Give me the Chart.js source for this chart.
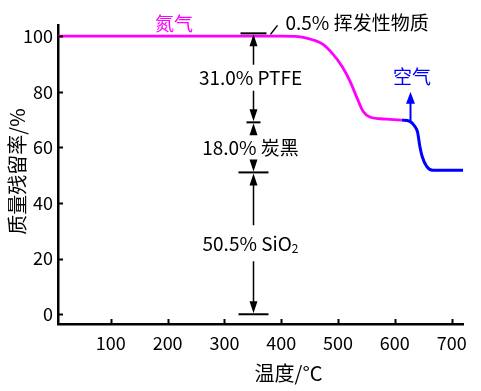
<!DOCTYPE html>
<html>
<head>
<meta charset="utf-8">
<script src="https://cdn.jsdelivr.net/npm/chart.js@4/dist/chart.umd.min.js"></script>
<style>
  html, body { margin: 0; padding: 0; background: #fff; }
  #wrap { width: 481px; height: 391px; }
</style>
</head>
<body>
<div id="wrap"><canvas id="tga" width="481" height="391"></canvas></div>
<script>
// TGA curve under nitrogen, then air
var nitrogenTemp = [7, 100, 200, 300, 400, 425, 441, 455, 473, 491, 508, 521, 533, 544, 556, 575, 591, 612];
var nitrogenMass = [100, 100, 100, 100, 100, 99.9, 99.5, 98.7, 97.1, 93.5, 88.8, 83.8, 78, 73, 70.9, 70.3, 70.1, 69.8];
var airTemp = [612, 626, 635, 640, 644, 648, 656, 667, 690, 720];
var airMass = [69.8, 69.4, 67.6, 65.5, 60.4, 56.8, 53.2, 51.8, 51.8, 51.8];

// composition bars (mass %) and their labels
var layerLevels = [101, 69, 51, 0];
var layerLabels = ['31.0% PTFE', '18.0% 炭黑', '50.5% SiO'];
var layerBarHalf = [13, 7, 15, 15];
var annotTemp = 350;
var volatileLabel = '0.5% 挥发性物质';
var airArrowTemp = 626;
var airArrowFrom = 69.4;
var airArrowTo = 80;

var xTicks = [100, 200, 300, 400, 500, 600, 700];
var yTicks = [0, 20, 40, 60, 80, 100];

var FONT = '"Noto Sans CJK SC", "Noto Sans", sans-serif';

function toPoints(xs, ys) {
  return xs.map(function (x, i) { return { x: x, y: ys[i] }; });
}

function arrowHead(ctx, x, y, dir, len, half) {
  // dir = -1 points up, 1 points down
  ctx.beginPath();
  ctx.moveTo(x, y);
  ctx.lineTo(x - half, y - dir * len);
  ctx.lineTo(x + half, y - dir * len);
  ctx.closePath();
  ctx.fill();
}

var annotations = {
  id: 'annotations',
  afterDraw: function (chart) {
    var ctx = chart.ctx;
    var xs = chart.scales.x, ys = chart.scales.y;
    var area = chart.chartArea;
    ctx.save();

    // inward tick marks
    ctx.strokeStyle = '#000';
    ctx.lineWidth = 2;
    yTicks.forEach(function (v) {
      var py = Math.round(ys.getPixelForValue(v)) + 0.5;
      ctx.beginPath();
      ctx.moveTo(area.left, py);
      ctx.lineTo(area.left + 5, py);
      ctx.stroke();
    });
    xTicks.forEach(function (v) {
      var px = Math.round(xs.getPixelForValue(v)) + 0.5;
      ctx.beginPath();
      ctx.moveTo(px, area.bottom);
      ctx.lineTo(px, area.bottom - 5);
      ctx.stroke();
    });

    // dimension chain
    var ax = Math.round(xs.getPixelForValue(annotTemp)) + 0.5;
    var lv = layerLevels.map(function (v) { return ys.getPixelForValue(v); });
    ctx.lineWidth = 2;
    lv.forEach(function (py, i) {
      ctx.beginPath();
      ctx.moveTo(ax - layerBarHalf[i], py);
      ctx.lineTo(ax + layerBarHalf[i], py);
      ctx.stroke();
    });
    ctx.textBaseline = 'middle';
    ctx.fillStyle = '#000';
    ctx.lineWidth = 1.5;
    for (var i = 0; i < layerLabels.length; i++) {
      var top = lv[i], bot = lv[i + 1];
      var mid = (top + bot) / 2;
      var gap = i === 2 ? 18 : 13;
      ctx.beginPath();
      ctx.moveTo(ax, top + 10);
      ctx.lineTo(ax, mid - gap);
      ctx.moveTo(ax, mid + gap);
      ctx.lineTo(ax, bot - 10);
      ctx.stroke();
      arrowHead(ctx, ax, top + 1, -1, 12, 4);
      arrowHead(ctx, ax, bot - 1, 1, 12, 4);
      // label, SiO2 gets a subscript
      var txt = layerLabels[i];
      var sub = i === 2 ? '2' : '';
      ctx.font = '19px ' + FONT;
      var w = ctx.measureText(txt).width;
      ctx.font = '12px ' + FONT;
      var ws = sub ? ctx.measureText(sub).width : 0;
      var left = ax - 3 - (w + ws) / 2;
      ctx.font = '19px ' + FONT;
      ctx.textAlign = 'left';
      ctx.fillText(txt, left, mid);
      if (sub) {
        ctx.font = '12px ' + FONT;
        ctx.fillText(sub, left + w, mid + 5);
      }
    }

    // volatile leader + label
    ctx.lineWidth = 1.5;
    ctx.beginPath();
    ctx.moveTo(ax + 17, lv[0] + 1);
    ctx.lineTo(ax + 24, lv[0] - 8);
    ctx.stroke();
    ctx.font = '19px ' + FONT;
    ctx.textAlign = 'left';
    ctx.fillText(volatileLabel, ax + 32, lv[0] - 11);

    // gas labels
    ctx.textAlign = 'center';
    ctx.fillStyle = '#ff00ff';
    ctx.fillText('氮气', xs.getPixelForValue(211), ys.getPixelForValue(100) - 12);
    ctx.fillStyle = '#0000ff';
    ctx.fillText('空气', xs.getPixelForValue(630), ys.getPixelForValue(airArrowTo) - 15);

    // air switch arrow
    var bx = Math.round(xs.getPixelForValue(airArrowTemp)) + 0.5;
    var by0 = ys.getPixelForValue(airArrowFrom);
    var by1 = ys.getPixelForValue(airArrowTo);
    ctx.strokeStyle = '#0000ff';
    ctx.lineWidth = 2;
    ctx.beginPath();
    ctx.moveTo(bx, by0);
    ctx.lineTo(bx, by1 + 8);
    ctx.stroke();
    arrowHead(ctx, bx, by1, -1, 12, 4.5);

    // axis titles
    ctx.fillStyle = '#000';
    ctx.font = '20px ' + FONT;
    ctx.textAlign = 'center';
    ctx.fillText('温度/°C', xs.getPixelForValue(413), 373);
    ctx.translate(17, (area.top + area.bottom) / 2 - 3);
    ctx.rotate(-Math.PI / 2);
    ctx.fillText('质量残留率/%', 0, 0);
    ctx.restore();
  }
};

var chart = new Chart(document.getElementById('tga'), {
  type: 'line',
  data: {
    datasets: [
      {
        label: '氮气',
        data: toPoints(nitrogenTemp, nitrogenMass),
        borderColor: '#ff00ff',
        borderWidth: 2.8,
        pointRadius: 0,
        cubicInterpolationMode: 'monotone',
        fill: false
      },
      {
        label: '空气',
        data: toPoints(airTemp, airMass),
        borderColor: '#0000ff',
        borderWidth: 3,
        pointRadius: 0,
        cubicInterpolationMode: 'monotone',
        fill: false
      }
    ]
  },
  options: {
    responsive: false,
    animation: false,
    devicePixelRatio: 1,
    layout: { padding: { top: 25, right: 18, left: 0, bottom: 0 } },
    plugins: {
      legend: { display: false },
      tooltip: { enabled: false }
    },
    scales: {
      x: {
        type: 'linear',
        min: 7,
        max: 720,
        afterFit: function (s) { s.height = 67; },
        grid: { display: true, drawOnChartArea: false, drawTicks: false },
        border: { display: true, color: '#000', width: 2.5 },
        ticks: {
          includeBounds: false,
          stepSize: 100,
          padding: 8,
          color: '#000',
          font: { size: 18, family: FONT }
        }
      },
      y: {
        type: 'linear',
        min: -3.5,
        max: 104,
        afterFit: function (s) { s.width = 58; },
        grid: { display: true, drawOnChartArea: false, drawTicks: false },
        border: { display: true, color: '#000', width: 2.5 },
        ticks: {
          includeBounds: false,
          stepSize: 20,
          padding: 5,
          color: '#000',
          font: { size: 18, family: FONT }
        }
      }
    }
  },
  plugins: [annotations]
});
</script>
</body>
</html>
